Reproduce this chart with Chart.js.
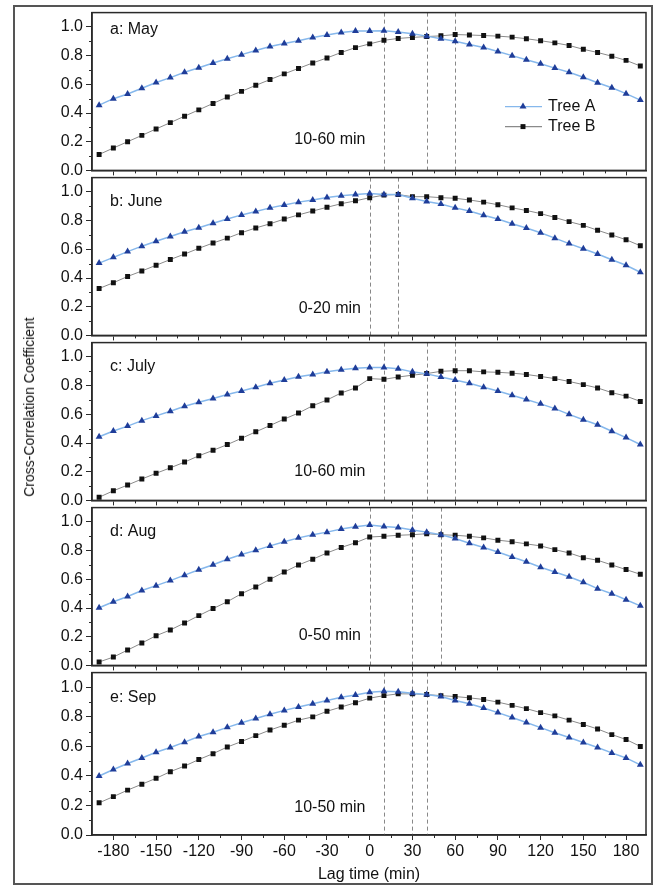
<!DOCTYPE html>
<html>
<head>
<meta charset="utf-8">
<script src="https://cdn.jsdelivr.net/npm/chart.js@4.4.1/dist/chart.umd.min.js"></script>
<style>
body { margin: 0; background: #fff; width: 655px; height: 887px; position: relative; overflow: hidden; font-family: "Liberation Sans", Arial, sans-serif; }
#frame { position: absolute; left: 13px; top: 5px; width: 636px; height: 876px; border: 2px solid #555; }
canvas { position: absolute; left: 0; }
#ytitle { position: absolute; left: 29px; top: 407px; transform: translate(-50%, -50%) rotate(-90deg); font-size: 14px; white-space: nowrap; color: #111; }
</style>
</head>
<body>
<div id="frame"></div>
<canvas id="c0" width="655" height="183" style="top:0px"></canvas>
<canvas id="c1" width="655" height="183" style="top:165px"></canvas>
<canvas id="c2" width="655" height="183" style="top:330px"></canvas>
<canvas id="c3" width="655" height="183" style="top:495px"></canvas>
<canvas id="c4" width="655" height="227" style="top:660px"></canvas>
<div id="ytitle">Cross-Correlation Coefficient</div>
<script>
const lags = [-190, -180, -170, -160, -150, -140, -130, -120, -110, -100, -90, -80, -70, -60, -50, -40, -30,
    -20, -10, 0, 10, 20, 30, 40, 50, 60, 70, 80, 90, 100, 110, 120, 130, 140, 150, 160, 170, 180, 190];

const panelNames = ['a: May', 'b: June', 'c: July', 'd: Aug', 'e: Sep'];
const rangeTexts = ['10-60 min', '0-20 min', '10-60 min', '0-50 min', '10-50 min'];
const dashLines = [[10, 40, 60], [0, 20], [10, 40, 60], [0, 30, 50], [10, 30, 40]];

const treeA_may = [0.455, 0.50, 0.533, 0.573, 0.613, 0.647, 0.684, 0.716, 0.749, 0.778, 0.807, 0.836, 0.864, 0.884, 0.904, 0.927, 0.944,
    0.962, 0.971, 0.971, 0.973, 0.964, 0.953, 0.936, 0.918, 0.90, 0.878, 0.856, 0.829, 0.80, 0.771, 0.744, 0.713, 0.684, 0.649, 0.611, 0.576, 0.535, 0.49];
const treeB_may = [0.111, 0.156, 0.20, 0.244, 0.289, 0.333, 0.378, 0.422, 0.467, 0.511, 0.551, 0.593, 0.633, 0.673, 0.711, 0.749, 0.784,
    0.822, 0.856, 0.882, 0.907, 0.92, 0.927, 0.933, 0.938, 0.947, 0.944, 0.94, 0.936, 0.929, 0.918, 0.904, 0.889, 0.871, 0.844, 0.822, 0.796, 0.767, 0.728];

const treeA_jun = [0.504, 0.544, 0.584, 0.622, 0.656, 0.689, 0.722, 0.751, 0.782, 0.811, 0.84, 0.864, 0.889, 0.909, 0.929, 0.944, 0.962,
    0.973, 0.982, 0.989, 0.982, 0.982, 0.956, 0.933, 0.916, 0.889, 0.867, 0.838, 0.811, 0.778, 0.749, 0.716, 0.678, 0.64, 0.604, 0.567, 0.527, 0.489, 0.44];
const treeB_jun = [0.327, 0.367, 0.411, 0.449, 0.489, 0.529, 0.567, 0.607, 0.644, 0.678, 0.716, 0.749, 0.778, 0.811, 0.84, 0.867, 0.893,
    0.918, 0.938, 0.96, 0.978, 0.982, 0.967, 0.967, 0.96, 0.956, 0.944, 0.929, 0.911, 0.889, 0.871, 0.849, 0.822, 0.793, 0.767, 0.733, 0.70, 0.667, 0.625];

const treeA_jul = [0.444, 0.484, 0.518, 0.556, 0.589, 0.622, 0.656, 0.684, 0.711, 0.738, 0.762, 0.789, 0.816, 0.84, 0.862, 0.878, 0.896,
    0.911, 0.922, 0.927, 0.927, 0.918, 0.896, 0.882, 0.86, 0.84, 0.816, 0.789, 0.762, 0.733, 0.704, 0.673, 0.64, 0.60, 0.562, 0.527, 0.482, 0.438, 0.39];
const treeB_jul = [0.022, 0.067, 0.107, 0.149, 0.189, 0.227, 0.267, 0.311, 0.349, 0.389, 0.433, 0.478, 0.522, 0.567, 0.609, 0.66, 0.70,
    0.749, 0.784, 0.849, 0.844, 0.86, 0.873, 0.884, 0.90, 0.904, 0.904, 0.896, 0.893, 0.887, 0.878, 0.864, 0.849, 0.829, 0.807, 0.784, 0.751, 0.727, 0.69];

const treeA_aug = [0.402, 0.444, 0.48, 0.522, 0.556, 0.591, 0.629, 0.667, 0.702, 0.74, 0.773, 0.802, 0.833, 0.862, 0.889, 0.911, 0.929,
    0.951, 0.967, 0.978, 0.969, 0.962, 0.944, 0.929, 0.911, 0.884, 0.851, 0.822, 0.791, 0.756, 0.722, 0.684, 0.651, 0.618, 0.58, 0.535, 0.50, 0.458, 0.415];
const treeB_aug = [0.024, 0.058, 0.107, 0.156, 0.207, 0.247, 0.296, 0.347, 0.396, 0.444, 0.50, 0.547, 0.60, 0.651, 0.70, 0.74, 0.784,
    0.822, 0.855, 0.895, 0.90, 0.907, 0.911, 0.918, 0.911, 0.907, 0.90, 0.889, 0.873, 0.862, 0.847, 0.833, 0.807, 0.784, 0.751, 0.733, 0.70, 0.668, 0.635];

const treeA_sep = [0.40, 0.444, 0.484, 0.522, 0.56, 0.593, 0.629, 0.667, 0.696, 0.729, 0.76, 0.789, 0.818, 0.844, 0.867, 0.889, 0.911,
    0.933, 0.949, 0.967, 0.973, 0.971, 0.96, 0.951, 0.938, 0.911, 0.889, 0.86, 0.829, 0.796, 0.762, 0.727, 0.693, 0.66, 0.627, 0.593, 0.556, 0.522, 0.475];
const treeB_sep = [0.218, 0.26, 0.304, 0.344, 0.384, 0.429, 0.467, 0.511, 0.551, 0.596, 0.633, 0.673, 0.711, 0.744, 0.778, 0.80, 0.838,
    0.867, 0.896, 0.927, 0.944, 0.956, 0.956, 0.951, 0.944, 0.938, 0.929, 0.918, 0.90, 0.878, 0.856, 0.829, 0.807, 0.778, 0.749, 0.718, 0.68, 0.647, 0.60];

const seriesA = [treeA_may, treeA_jun, treeA_jul, treeA_aug, treeA_sep];
const seriesB = [treeB_may, treeB_jun, treeB_jul, treeB_aug, treeB_sep];

const FONT = '"Liberation Sans", Arial, sans-serif';
const TEXT = '#111';
const AXIS = '#2a2a2a';
const A_LINE = '#86b8ec';
const A_MARK = '#1f3d99';
const B_LINE = '#8a8a8a';
const B_MARK = '#111';

const labelY = [0.98, 0.93, 0.93, 0.93, 0.93];
const rangeY = [0.213, 0.187, 0.2, 0.207, 0.187];

const toPoints = (vals) => lags.map((x, i) => ({ x: x, y: vals[i] }));

const panelPlugin = (idx) => ({
    id: 'panel' + idx,
    beforeDatasetsDraw(chart) {
        const { ctx, chartArea, scales } = chart;
        ctx.save();
        ctx.strokeStyle = '#888';
        ctx.lineWidth = 1;
        ctx.setLineDash([4, 3]);
        dashLines[idx].forEach((v) => {
            const px = Math.round(scales.x.getPixelForValue(v)) + 0.5;
            ctx.beginPath();
            ctx.moveTo(px, chartArea.top);
            ctx.lineTo(px, chartArea.bottom);
            ctx.stroke();
        });
        ctx.restore();
    },
    afterDraw(chart) {
        const { ctx, chartArea, scales } = chart;
        ctx.save();
        // frame
        ctx.strokeStyle = AXIS;
        ctx.lineWidth = 1.5;
        ctx.strokeRect(chartArea.left, chartArea.top, chartArea.right - chartArea.left, chartArea.bottom - chartArea.top);
        // minor ticks
        ctx.lineWidth = 1;
        for (let v = 0.1; v < 1.05; v += 0.2) {
            const py = Math.round(scales.y.getPixelForValue(v)) + 0.5;
            ctx.beginPath();
            ctx.moveTo(chartArea.left - 3, py);
            ctx.lineTo(chartArea.left, py);
            ctx.stroke();
        }
        for (let v = -165; v <= 165; v += 30) {
            const px = Math.round(scales.x.getPixelForValue(v)) + 0.5;
            ctx.beginPath();
            ctx.moveTo(px, chartArea.bottom);
            ctx.lineTo(px, chartArea.bottom + 3);
            ctx.stroke();
        }
        // texts
        ctx.fillStyle = TEXT;
        ctx.font = '16px ' + FONT;
        ctx.textBaseline = 'middle';
        ctx.textAlign = 'left';
        ctx.fillText(panelNames[idx], chartArea.left + 18, scales.y.getPixelForValue(labelY[idx]));
        ctx.textAlign = 'center';
        ctx.fillText(rangeTexts[idx], scales.x.getPixelForValue(-28), scales.y.getPixelForValue(rangeY[idx]));
        // legend
        if (idx === 0) {
            const items = [
                { text: 'Tree A', line: A_LINE, mark: A_MARK, style: 'triangle', r: 4 },
                { text: 'Tree B', line: B_LINE, mark: B_MARK, style: 'rect', r: 3.5 },
            ];
            items.forEach((it, k) => {
                const y = chartArea.top + 94 + k * 20;
                const x0 = chartArea.left + 413;
                ctx.strokeStyle = it.line;
                ctx.lineWidth = 1.2;
                ctx.beginPath();
                ctx.moveTo(x0, y);
                ctx.lineTo(x0 + 37, y);
                ctx.stroke();
                ctx.fillStyle = it.mark;
                ctx.strokeStyle = it.mark;
                Chart.helpers.drawPoint(ctx, { pointStyle: it.style, radius: it.r, rotation: 0, borderWidth: 0 }, x0 + 18, y);
                ctx.fillStyle = TEXT;
                ctx.textAlign = 'left';
                ctx.fillText(it.text, x0 + 43, y);
            });
        }
        ctx.restore();
    }
});

Chart.defaults.font.family = FONT;

for (let i = 0; i < 5; i++) {
    const last = i === 4;
    const bottomH = last ? 52 : 8;
    new Chart(document.getElementById('c' + i), {
        type: 'line',
        data: {
            datasets: [
                {
                    label: 'Tree A',
                    data: toPoints(seriesA[i]),
                    borderColor: A_LINE,
                    borderWidth: 1.5,
                    pointStyle: 'triangle',
                    pointRadius: 4,
                    pointBackgroundColor: A_MARK,
                    pointBorderColor: A_MARK,
                    pointBorderWidth: 0,
                    tension: 0,
                },
                {
                    label: 'Tree B',
                    data: toPoints(seriesB[i]),
                    borderColor: B_LINE,
                    borderWidth: 1,
                    pointStyle: 'rect',
                    pointRadius: 3.5,
                    pointBackgroundColor: B_MARK,
                    pointBorderColor: B_MARK,
                    pointBorderWidth: 0,
                    tension: 0,
                },
            ]
        },
        options: {
            responsive: false,
            animation: false,
            events: [],
            layout: { padding: { top: 10, left: 0, right: 9, bottom: 0 } },
            plugins: { legend: { display: false }, tooltip: { enabled: false } },
            scales: {
                x: {
                    type: 'linear',
                    min: -195,
                    max: 194,
                    ticks: {
                        stepSize: 30,
                        includeBounds: false,
                        autoSkip: false,
                        maxRotation: 0,
                        display: last,
                        color: TEXT,
                        font: { size: 16 },
                        padding: 2,
                    },
                    grid: { drawOnChartArea: false, drawTicks: true, tickLength: 5, color: AXIS },
                    border: { display: true, color: AXIS, width: 1.5 },
                    title: { display: last, text: 'Lag time (min)', color: TEXT, font: { size: 16 }, padding: { top: 2, bottom: 3 } },
                    afterFit: (s) => { s.height = bottomH; },
                },
                y: {
                    min: 0,
                    max: 1.1,
                    ticks: {
                        stepSize: 0.2,
                        includeBounds: false,
                        color: TEXT,
                        font: { size: 16 },
                        padding: 3,
                        callback: (v) => Number(v).toFixed(1),
                    },
                    grid: { drawOnChartArea: false, drawTicks: true, tickLength: 6, color: AXIS },
                    border: { display: true, color: AXIS, width: 1.5 },
                    afterFit: (s) => { s.width = 92; },
                }
            }
        },
        plugins: [panelPlugin(i)]
    });
}
</script>
</body>
</html>
